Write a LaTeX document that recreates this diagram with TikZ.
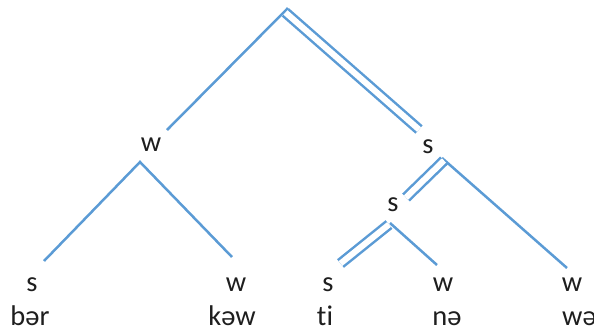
\documentclass[tikz,border=0pt]{standalone}
\usepackage{fontspec}
\setmainfont{Carlito}[Ligatures=NoCommon]
\definecolor{treeblue}{RGB}{91,155,213}
\definecolor{txt}{RGB}{30,30,30}
\begin{document}
\begin{tikzpicture}[x=1pt,y=-1pt,
  br/.style={draw=treeblue,line width=2.5pt},
  dbl/.style={draw=treeblue,line width=2.5pt,double=white,double distance=6pt},
  lab/.style={inner sep=0pt,font=\fontsize{28.5}{32}\selectfont,text=txt},
  word/.style={inner sep=0pt,font=\fontsize{28.5}{32}\selectfont,text=txt,anchor=base}]
\useasboundingbox (0,0) rectangle (594,333);
% apexes and ends
\coordinate (R) at (288,8);
\coordinate (Rd) at (285.5,12.5);
\coordinate (RL) at (167,130);
\coordinate (RR) at (419,129.5);
\coordinate (WA) at (140,162);
\coordinate (WL) at (44,261);
\coordinate (WR) at (232,257);
\coordinate (SA) at (442,158);
\coordinate (SAd) at (444,160.5);
\coordinate (SAL) at (406,197.5);
\coordinate (SAR) at (567,268);
\coordinate (SB) at (390,223);
\coordinate (SBd) at (389,224.5);
\coordinate (SBL) at (340.5,263.5);
\coordinate (SBR) at (437,265);
% labels
\node[lab] (w1) at (151,145) {w};
\node[lab] (s1) at (428,147) {s};
\node[lab] (s2) at (393,205) {s};
\node[lab] (b1) at (32,285) {s};
\node[lab] (b2) at (236,285) {w};
\node[lab] (b3) at (328,285) {s};
\node[lab] (b4) at (443,285) {w};
\node[lab] (b5) at (572,285) {w};
\node[word] (t1) at (30,325) {bər};
\node[word] (t2) at (232,325) {kəw};
\node[word] (t3) at (325,325) {ti};
\node[word] (t4) at (447,325) {nə};
\node[word,anchor=base west] (t5) at (562,325) {wə};
% branches
\draw[br] (RL) -- (R);
\draw[dbl] (Rd) -- (RR);
\draw[br] (WL) -- (WA) -- (WR);
\draw[br] (SA) -- (SAR);
\draw[dbl] (SAd) -- (SAL);
\draw[br] (SB) -- (SBR);
\draw[dbl] (SBd) -- (SBL);
\end{tikzpicture}
\end{document}
